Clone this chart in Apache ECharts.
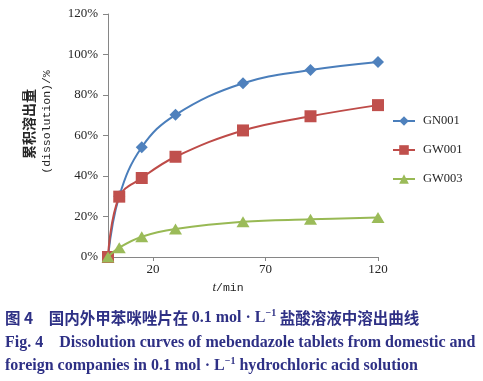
<!DOCTYPE html>
<html><head><meta charset="utf-8">
<script src="https://cdn.jsdelivr.net/npm/echarts@6/dist/echarts.min.js"></script>
<style>html,body{margin:0;padding:0;background:#fff}#c{width:483px;height:381px}</style>
</head><body><div id="c"></div>
<script>
const times = [0, 5, 15, 30, 60, 90, 120];
const seriesNames = ['GN001', 'GW001', 'GW003'];
const gn001 = [0, 30, 54.2, 70.2, 85.8, 92.3, 96.3];
const gw001 = [0, 29.8, 39, 49.5, 62.5, 69.5, 75];
const gw003 = [0, 4.6, 10, 13.8, 17.4, 18.6, 19.5];
const xTickValues = [20, 70, 120];

const navy = '#2e3085';
const txt = '#262626';
const serif = '"Liberation Serif", "DejaVu Serif", serif';
const mono = '"Liberation Mono", "DejaVu Sans Mono", monospace';
const cjk = '"Noto Sans CJK SC", sans-serif';

function pairs(vals){ return times.map((t,i)=>[t, vals[i]]); }

const chart = echarts.init(document.getElementById('c'), null, {renderer:'canvas'});
chart.setOption({
  animation: false,
  backgroundColor: '#fff',
  grid: {left: 108, right: 105, top: 14, bottom: 124, containLabel: false},
  xAxis: {
    type: 'value', min: 0, max: 120,
    axisLine: {lineStyle: {color: '#868686', width: 1}},
    axisTick: {show: true, length: 4, lineStyle: {color: '#868686'}, customValues: xTickValues},
    axisLabel: {customValues: xTickValues, color: txt, fontFamily: serif, fontSize: 13, margin: 6},
    splitLine: {show: false}
  },
  yAxis: {
    type: 'value', min: 0, max: 120, interval: 20,
    axisLine: {show: true, lineStyle: {color: '#868686', width: 1}},
    axisTick: {show: true, length: 5, lineStyle: {color: '#868686'}},
    axisLabel: {formatter: '{value}%', color: txt, fontFamily: serif, fontSize: 13, margin: 10},
    splitLine: {show: false}
  },
  legend: {
    orient: 'vertical', left: 387, top: 109,
    itemWidth: 22, itemHeight: 12, itemGap: 15,
    textStyle: {color: txt, fontFamily: serif, fontSize: 12.5, lineHeight: 14, padding: [0,0,0,3]},
    data: seriesNames
  },
  series: [
    {name: seriesNames[0], type: 'line', smooth: 0.4, data: pairs(gn001),
     symbol: 'diamond', symbolSize: 12, z: 3,
     lineStyle: {color: '#4A7EBB', width: 2}, itemStyle: {color: '#4F81BD'}},
    {name: seriesNames[1], type: 'line', smooth: 0.4, data: pairs(gw001),
     symbol: 'rect', symbolSize: 12, z: 4,
     lineStyle: {color: '#BE4B48', width: 2}, itemStyle: {color: '#C0504D'}},
    {name: seriesNames[2], type: 'line', smooth: 0.4, data: pairs(gw003),
     symbol: 'triangle', symbolSize: [13, 11], z: 5,
     lineStyle: {color: '#98B954', width: 2}, itemStyle: {color: '#9BBB59'}}
  ],
  graphic: [
    {type: 'text', x: 29, y: 124, rotation: Math.PI/2,
     style: {text: '累积溶出量', font: 'bold 14px ' + cjk, fill: txt, align: 'center', verticalAlign: 'middle'}},
    {type: 'text', x: 47, y: 122, rotation: Math.PI/2,
     style: {text: '(dissolution)/%', font: '11.5px ' + mono, fill: txt, align: 'center', verticalAlign: 'middle'}},
    {type: 'text', x: 228, y: 288,
     style: {text: '{i|t}{n|/min}', align: 'center', verticalAlign: 'middle', fill: txt,
       rich: {i: {fontFamily: serif, fontStyle: 'italic', fontSize: 13, fill: txt},
              n: {fontFamily: mono, fontSize: 11.5, fill: txt}}}},
    {type: 'text', x: 5, y: 318,
     style: {text: '{c|图 4}{c|　国内外甲苯咪唑片在 }{e|0.1 mol · L}{s|−1}{c| 盐酸溶液中溶出曲线}',
       verticalAlign: 'middle', fill: navy,
       rich: {c: {fontFamily: '"Noto Sans CJK SC", ' + serif, fontWeight: 'bold', fontSize: 15.5, fill: navy, lineHeight: 20},
              e: {fontFamily: serif, fontWeight: 'bold', fontSize: 16, fill: navy, lineHeight: 20},
              s: {fontFamily: serif, fontWeight: 'bold', fontSize: 10, fill: navy, verticalAlign: 'top', lineHeight: 20}}}},
    {type: 'text', x: 5, y: 343,
     style: {text: 'Fig. 4　Dissolution curves of mebendazole tablets from domestic and',
       font: 'bold 16px ' + serif, fill: navy, verticalAlign: 'middle'}},
    {type: 'text', x: 5, y: 366,
     style: {text: '{e|foreign companies in 0.1 mol · L}{s|−1}{e| hydrochloric acid solution}',
       verticalAlign: 'middle', fill: navy,
       rich: {e: {fontFamily: serif, fontWeight: 'bold', fontSize: 16, fill: navy, lineHeight: 20},
              s: {fontFamily: serif, fontWeight: 'bold', fontSize: 10, fill: navy, verticalAlign: 'top', lineHeight: 20}}}}
  ]
});
</script></body></html>
